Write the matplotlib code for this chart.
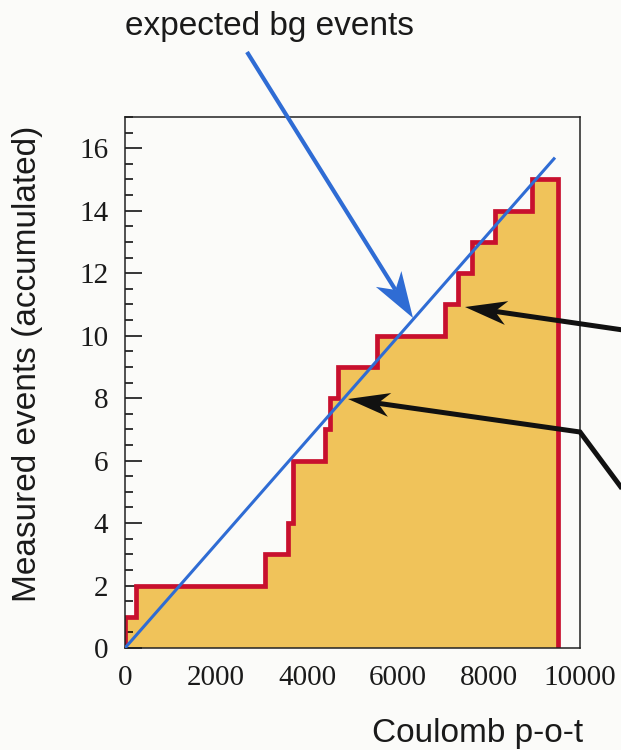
import numpy as np
import matplotlib
matplotlib.use("Agg")
import matplotlib.pyplot as plt
from matplotlib.patches import Polygon
from matplotlib.ticker import MultipleLocator

# Accumulated charge (Coulomb p-o-t) at which each candidate event was recorded
event_pot = [0, 240, 3080, 3580, 3690, 3690, 4400, 4500, 4680,
             5540, 7030, 7320, 7630, 8130, 8950]
run_end_pot = 9520

# Expected background: straight line from the origin
bg_pot = [0, 9450]
bg_events = [0, 15.7]

x_ticks = [0, 2000, 4000, 6000, 8000, 10000]
y_ticks = [0, 2, 4, 6, 8, 10, 12, 14, 16]

FILL = "#f0c35a"
RED = "#c8102e"
BLUE = "#2f6cd4"
PAPER = "#fbfbf9"

W, H = 621, 750
fig = plt.figure(figsize=(W / 100, H / 100), dpi=100, facecolor=PAPER)

# main axes placed in pixel units
L, R, T, B = 125, 580, 117, 648
ax = fig.add_axes([L / W, 1 - B / H, (R - L) / W, (B - T) / H])
ax.set_facecolor(PAPER)

n = len(event_pot)
xs = np.concatenate([[0], event_pot, [run_end_pot]])
ys = np.concatenate([[0], np.arange(1, n + 1), [n]])

ax.fill_between(xs, ys, step="post", color=FILL, lw=0, zorder=1)
ax.plot(np.append(xs, run_end_pot), np.append(ys, 0), drawstyle="steps-post",
        color=RED, lw=3.4, solid_joinstyle="miter", zorder=2)
ax.plot(bg_pot, bg_events, color=BLUE, lw=2.2, solid_capstyle="butt", zorder=3)

ax.set_xlim(0, 10000)
ax.set_ylim(0, 17)
ax.set_xticks(x_ticks)
ax.set_yticks(y_ticks)
ax.yaxis.set_minor_locator(MultipleLocator(0.5))
ax.tick_params(axis="y", which="major", direction="in", length=12, width=1.1,
               pad=12, left=True, right=False)
ax.tick_params(axis="y", which="minor", direction="in", length=6, width=1.1,
               left=True, right=False)
ax.tick_params(axis="x", which="both", length=0, pad=12)
for lab in ax.get_xticklabels() + ax.get_yticklabels():
    lab.set_fontfamily("Liberation Serif")
    lab.set_fontsize(21)
    lab.set_color("#1a1a1a")
for sp in ax.spines.values():
    sp.set_linewidth(1.1)
    sp.set_color("#222222")

# axis titles
fig.text(28 / W, 1 - 364 / H, "Measured events (accumulated)", rotation=90,
         ha="center", va="center", fontsize=24, family="Liberation Sans",
         color="#1a1a1a")
fig.text(583 / W, 1 - 742 / H, "Coulomb p-o-t", ha="right", va="baseline",
         fontsize=24, family="Liberation Sans", color="#1a1a1a")
fig.text(125 / W, 1 - 35 / H, "expected bg events", ha="left", va="baseline",
         fontsize=24, family="Liberation Sans", color="#1a1a1a")

# overlay in pixel coordinates for the callout arrows
ov = fig.add_axes([0, 0, 1, 1], facecolor="none")
ov.set_xlim(0, W)
ov.set_ylim(H, 0)
ov.axis("off")


def stealth_arrow(points, color, lw, head_len, head_w):
    pts = np.asarray(points, dtype=float)
    tip = pts[0]
    d = pts[1] - tip
    d /= np.hypot(*d)
    nrm = np.array([-d[1], d[0]])
    base = tip + d * head_len
    notch = tip + d * head_len * 0.72
    line_pts = np.vstack([notch, pts[1:]])
    ov.plot(line_pts[:, 0], line_pts[:, 1], color=color, lw=lw,
            solid_joinstyle="miter", solid_capstyle="butt", clip_on=False)
    head = np.array([tip, base + nrm * head_w / 2, notch, base - nrm * head_w / 2])
    ov.add_patch(Polygon(head, closed=True, color=color, lw=0, clip_on=False))


stealth_arrow([(413, 318), (247, 52)], BLUE, 3.0, 46, 30)
stealth_arrow([(465, 307), (630, 331)], "#111111", 3.6, 42, 24)
stealth_arrow([(348, 399), (580, 432), (632, 502)], "#111111", 3.6, 42, 24)

fig.savefig("out.png", dpi=100, facecolor=PAPER)
